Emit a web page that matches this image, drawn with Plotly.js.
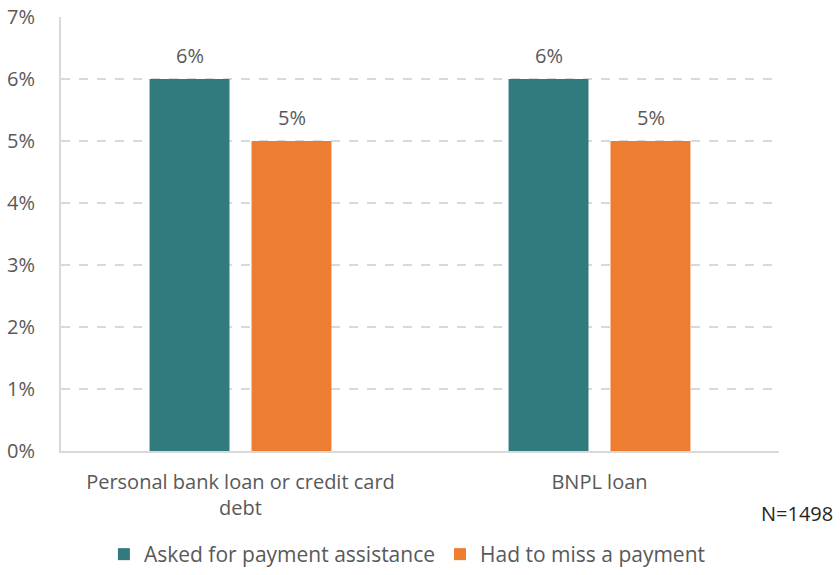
<!DOCTYPE html>
<html>
<head>
<meta charset="utf-8">
<script src="https://cdn.plot.ly/plotly-3.0.1.min.js"></script>
<style>html,body{margin:0;padding:0;background:#fff;}#chart{width:840px;height:575px;}</style>
</head>
<body>
<div id="chart"></div>
<script>
const categories = ["Personal bank loan or credit card<br>debt", "BNPL loan"];
const seriesNames = ["Asked for payment assistance", "Had to miss a payment"];
const askedValues = [6, 6];
const missedValues = [5, 5];
const yTickVals = [0, 1, 2, 3, 4, 5, 6, 7];
const yTickText = ["0%", "1%", "2%", "3%", "4%", "5%", "6%", "7%"];
const noteText = "N=1498";

const fontFam = "'Open Sans', Lato, sans-serif";
const grey = "#595959";
const colors = ["#317A7E", "#ED7D31"];
const fs = 20;

const traces = [
  {type: "bar", name: seriesNames[0], x: categories, y: askedValues,
   marker: {color: colors[0]}, hoverinfo: "none"},
  {type: "bar", name: seriesNames[1], x: categories, y: missedValues,
   marker: {color: colors[1]}, hoverinfo: "none"}
];

const labelAnns = [];
[askedValues, missedValues].forEach((vals, si) => {
  vals.forEach((v, ci) => {
    labelAnns.push({x: categories[ci], y: v, xref: "x", yref: "y",
      text: v + "%", showarrow: false, xshift: si === 0 ? -51 : 51, yshift: 24,
      yanchor: "middle", font: {family: fontFam, size: fs, color: grey}});
  });
});

const layout = {
  width: 840, height: 575,
  margin: {l: 61, r: 61, t: 17, b: 124, autoexpand: false},
  paper_bgcolor: "#fff", plot_bgcolor: "#fff",
  barmode: "group", bargap: 0.432, bargroupgap: 0.216,
  font: {family: fontFam, size: fs, color: grey},
  showlegend: true,
  legend: {orientation: "h", x: 0.485, xref: "container", xanchor: "center",
           y: -0.03, yref: "container", yanchor: "bottom",
           font: {family: fontFam, size: 21, color: grey}, itemwidth: 30, traceorder: "normal"},
  xaxis: {type: "category", showline: true, linecolor: "#D9D9D9", linewidth: 2,
          ticks: "", automargin: false, ticklabelstandoff: 12,
          tickfont: {family: fontFam, size: fs, color: grey}, showgrid: false},
  yaxis: {range: [0, 7], tickvals: yTickVals, ticktext: yTickText, showline: true,
          linecolor: "#D9D9D9", linewidth: 2, showgrid: true, gridcolor: "#D9D9D9",
          griddash: "dash", gridwidth: 1.5, zeroline: false, ticks: "", automargin: false,
          ticklabelstandoff: 20,
          tickfont: {family: fontFam, size: fs, color: grey}},
  annotations: labelAnns.concat([{text: noteText, xref: "paper", yref: "paper", x: 1.078, y: -0.145,
                 xanchor: "right", yanchor: "middle", showarrow: false,
                 font: {family: fontFam, size: fs, color: "#262626"}}])
};

Plotly.newPlot("chart", traces, layout, {displayModeBar: false, staticPlot: true});
</script>
</body>
</html>
